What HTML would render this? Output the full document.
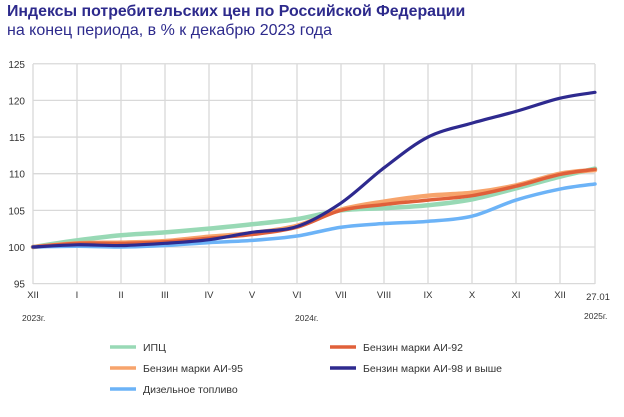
<!DOCTYPE html>
<html><head><meta charset="utf-8"><style>
body{margin:0;background:#fff;width:624px;height:417px;overflow:hidden;font-family:"Liberation Sans",sans-serif}
.t{position:absolute;left:7px;top:3px;font-size:15.9px;font-weight:bold;color:#2d2a8c}
.s{position:absolute;left:7px;top:22px;font-size:16px;color:#2d2a8c}
</style></head><body>
<div class="t">Индексы потребительских цен по Российской Федерации</div>
<div class="s">на конец периода, в % к декабрю 2023 года</div>
<svg id="c" width="624" height="417" style="position:absolute;left:0;top:0" font-family="Liberation Sans, sans-serif"></svg>
<script>
const svg=document.getElementById('c');let h='';
const Y=v=>247-(v-100)*7.33;
const xs=[33,77,121,165,209,252,297,341,384,428,472,516,560,595];
for(let v=95;v<=125;v+=5){h+=`<line x1="33" x2="595" y1="${Y(v)}" y2="${Y(v)}" stroke="#d9d9d9" stroke-width="1.3"/>`;
h+=`<text x="25" y="${Y(v)+4}" font-size="10" fill="#333" text-anchor="end">${v}</text>`;}
const m=['XII','I','II','III','IV','V','VI','VII','VIII','IX','X','XI','XII'];
xs.forEach((x,i)=>{h+=`<line x1="${x}" x2="${x}" y1="64" y2="284" stroke="#d9d9d9" stroke-width="1.3"/>`;
if(i<13)h+=`<text x="${x}" y="298" font-size="9.5" fill="#333" text-anchor="middle">${m[i]}</text>`;});
h+=`<text x="598" y="300" font-size="9.5" fill="#333" text-anchor="middle">27.01</text>`;
h+=`<text x="22" y="321" font-size="8.5" fill="#333">2023г.</text><text x="295" y="321" font-size="8.5" fill="#333">2024г.</text><text x="584" y="319" font-size="8.5" fill="#333">2025г.</text>`;
const S=[
['#98d9b5',[100,100.9,101.6,102.0,102.5,103.1,103.8,105.0,105.3,105.7,106.5,108.0,109.6,110.7],4.5],
['#f7a46c',[100,100.5,100.6,100.8,101.4,101.9,102.9,105.1,106.2,107.0,107.4,108.4,110.0,110.5],4.5],
['#e0603a',[100,100.5,100.5,100.7,101.2,101.7,102.7,105.0,105.8,106.4,107.0,108.3,109.9,110.6],3.5],
['#6cb3f7',[100,100.1,100.0,100.2,100.6,100.9,101.5,102.7,103.2,103.5,104.2,106.4,107.9,108.6],3.5],
['#2e2a8f',[100,100.3,100.2,100.5,101.0,102.0,102.8,106.0,110.8,115.0,116.9,118.5,120.3,121.1],3.2]];
S.forEach(([c,d,w])=>{const p=d.map((v,i)=>[xs[i],Y(v)]);let s=`M${p[0][0]},${p[0][1]}`;
for(let i=0;i<p.length-1;i++){const a=p[i-1]||p[i],b=p[i],e=p[i+1],f=p[i+2]||e;
s+=` C${b[0]+(e[0]-a[0])/6},${b[1]+(e[1]-a[1])/6} ${e[0]-(f[0]-b[0])/6},${e[1]-(f[1]-b[1])/6} ${e[0]},${e[1]}`;}
h+=`<path d="${s}" fill="none" stroke="${c}" stroke-width="${w}" stroke-linecap="round"/>`;});
const L=[[110,347,'#98d9b5','ИПЦ'],[330,347,'#e0603a','Бензин марки АИ-92'],[110,368,'#f7a46c','Бензин марки АИ-95'],[330,368,'#2e2a8f','Бензин марки АИ-98 и выше'],[110,389,'#6cb3f7','Дизельное топливо']];
L.forEach(([x,y,c,t])=>{h+=`<line x1="${x}" x2="${x+26}" y1="${y}" y2="${y}" stroke="${c}" stroke-width="3.5"/><text x="${x+33}" y="${y+4}" font-size="10.5" fill="#333">${t}</text>`;});
svg.innerHTML=h;
</script>
</body></html>
